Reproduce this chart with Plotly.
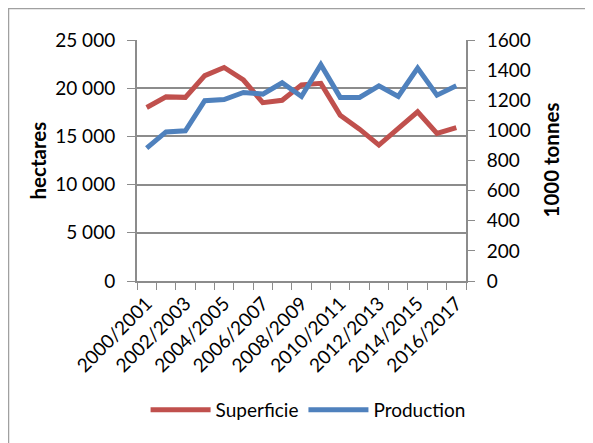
import plotly.graph_objects as go

categories = ["2000/2001", "2001/2002", "2002/2003", "2003/2004", "2004/2005", "2005/2006",
              "2006/2007", "2007/2008", "2008/2009", "2009/2010", "2010/2011", "2011/2012",
              "2012/2013", "2013/2014", "2014/2015", "2015/2016", "2016/2017"]
superficie = [18000, 19100, 19050, 21300, 22150, 20850, 18500, 18750, 20350, 20500,
              17200, 15750, 14100, 15750, 17550, 15300, 15900]
production = [882, 990, 997, 1197, 1205, 1252, 1241, 1316, 1225, 1436,
              1219, 1219, 1296, 1225, 1414, 1234, 1296]
tick_labels = [c if i % 2 == 0 else "" for i, c in enumerate(categories)]

RED = "#C0504D"
BLUE = "#4F81BD"
GRID = "#8C8C8C"
FONT = "Lato, Carlito, Calibri, sans-serif"

# page body adds an 8px offset; margins compensate
L, T, PW, PH = 129, 32, 329, 241

fig = go.Figure()
fig.add_trace(go.Scatter(x=categories, y=superficie, name="Superficie", mode="lines",
                         line=dict(color=RED, width=5), yaxis="y"))
fig.add_trace(go.Scatter(x=categories, y=production, name="Production", mode="lines",
                         line=dict(color=BLUE, width=5), yaxis="y2"))

fig.update_layout(
    width=593, height=443,
    margin=dict(l=L, r=593 - L - PW, t=T, b=443 - T - PH),
    paper_bgcolor="white", plot_bgcolor="white",
    font=dict(family=FONT, size=19, color="#000000"),
    separators=". ",
    showlegend=True,
    legend=dict(orientation="h", x=0.52, xanchor="center", y=-0.535, yanchor="middle",
                font=dict(size=19), itemwidth=60, tracegroupgap=0),
    xaxis=dict(type="category", tickmode="array", tickvals=categories, ticktext=tick_labels,
               tickangle=-45, ticks="outside", tickson="boundaries", ticklen=7,
               tickcolor=GRID, showline=True, linecolor=GRID, linewidth=2,
               showgrid=False, range=[-0.5, 16.5], tickfont=dict(size=19),
               automargin=False, ticklabelstandoff=2),
    yaxis=dict(range=[0, 25000], dtick=5000, tickformat=",d", showgrid=True,
               gridcolor=GRID, gridwidth=2, zeroline=False, showline=True,
               linecolor=GRID, linewidth=2, ticks="outside", ticklen=8, tickcolor=GRID,
               tickfont=dict(size=19), automargin=False, ticklabelstandoff=8),
    yaxis2=dict(range=[0, 1600], dtick=200, overlaying="y", side="right", showgrid=False,
                zeroline=False, showline=True, linecolor=GRID, linewidth=2,
                ticks="outside", ticklen=7, tickcolor=GRID, tickfont=dict(size=19),
                automargin=False, ticklabelstandoff=8),
    annotations=[
        dict(text="<b>hectares</b>", x=(29 - L) / PW, y=0.5, xref="paper", yref="paper",
             xanchor="center", yanchor="middle",
             textangle=-90, showarrow=False, font=dict(size=20.5)),
        dict(text="<b>1000 tonnes</b>", x=(542 - L) / PW, y=0.5, xref="paper", yref="paper",
             xanchor="center", yanchor="middle",
             textangle=-90, showarrow=False, font=dict(size=20.5)),
    ],
    shapes=[
        dict(type="rect", xref="paper", yref="paper",
             x0=(0.5 - L) / PW, x1=(620 - L) / PW,
             y0=(T + PH - 470) / PH, y1=(T + PH - 0.5) / PH,
             line=dict(color="#A0A0A0", width=1.5), layer="below"),
    ],
)

fig.write_html("out.html")
